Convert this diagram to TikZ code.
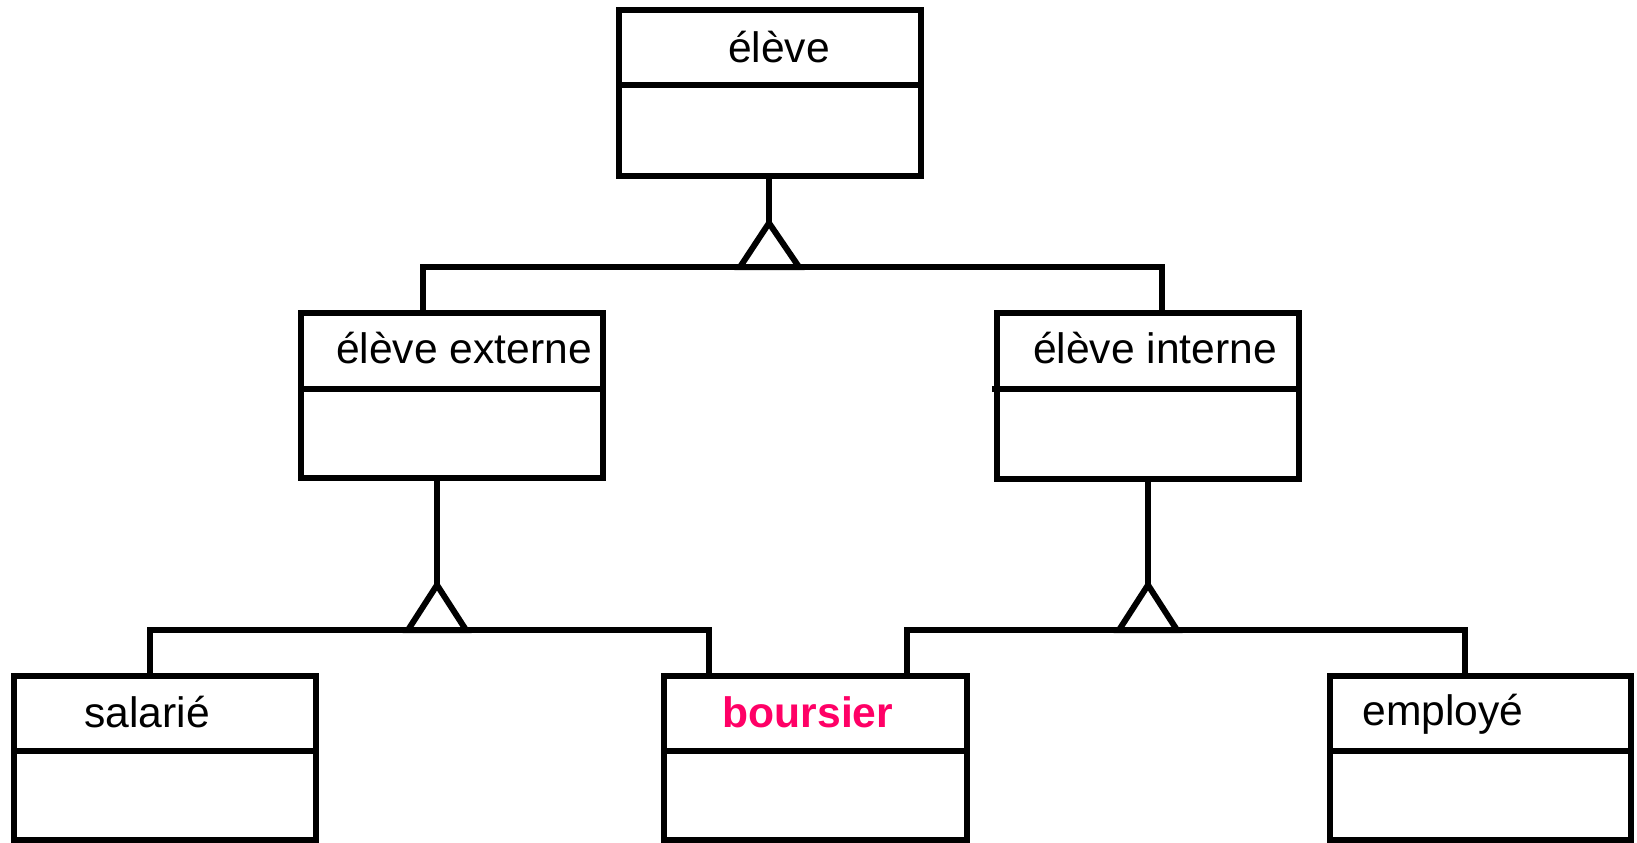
\documentclass[tikz,border=0pt]{standalone}
\usepackage{fontspec}
\setmainfont{Liberation Sans}
\definecolor{pinkred}{RGB}{255,0,102}
\begin{document}
\begin{tikzpicture}[x=0.5pt,y=-0.5pt,
  classbox/.style={draw=black, line width=3pt, rectangle, inner sep=0pt, outer sep=0pt},
  conn/.style={draw=black, line width=3pt},
  lbl/.style={anchor=base, inner sep=0pt, font=\fontsize{21.3}{25}\selectfont}]
\useasboundingbox (0,0) rectangle (1637,842);
\fill[white] (0,0) rectangle (1637,842);
\clip (0,0) rectangle (1637,842);
% class boxes
\node[classbox, minimum width=151pt, minimum height=83pt] (eleve) at (770,93) {};
\node[classbox, minimum width=151pt, minimum height=82.5pt] (ext) at (452,395.5) {};
\node[classbox, minimum width=151pt, minimum height=83pt] (int) at (1148,396) {};
\node[classbox, minimum width=151pt, minimum height=82pt] (sal) at (165,758) {};
\node[classbox, minimum width=151.5pt, minimum height=82pt] (bou) at (815.5,758) {};
\node[classbox, minimum width=150.5pt, minimum height=82pt] (emp) at (1480.5,758) {};
% dividers
\draw[conn] (eleve.west |- 0,85) -- (eleve.east |- 0,85);
\draw[conn] (ext.west |- 0,389) -- (ext.east |- 0,389);
\draw[conn] (992,389) -- (int.east |- 0,389);
\draw[conn] (sal.west |- 0,751) -- (sal.east |- 0,751);
\draw[conn] (bou.west |- 0,751) -- (bou.east |- 0,751);
\draw[conn] (emp.west |- 0,751) -- (emp.east |- 0,751);
% labels
\node[lbl] (televe) at (779,62) {élève};
\node[lbl] (text) at (464,363) {élève externe};
\node[lbl] (tint) at (1155,363) {élève interne};
\node[lbl] (tsal) at (147,727) {salarié};
\node[lbl, text=pinkred, font=\fontsize{21.3}{25}\selectfont\bfseries] (tbou) at (808,727) {boursier};
\node[lbl] (temp) at (1443,725) {employé};
% generalisation 1
\coordinate (apex1) at (769,223);
\coordinate (t1l) at (740,267);
\coordinate (t1r) at (799,267);
\coordinate (bar1l) at (423,267);
\coordinate (bar1r) at (1162,267);
\draw[conn] (eleve.south -| apex1) -- (apex1);
\draw[conn] (apex1) -- (t1l) -- (t1r) -- cycle;
\draw[conn] (ext.north -| bar1l) -- (bar1l) -- (bar1r) -- (int.north -| bar1r);
% generalisation 2
\coordinate (apex2) at (437,585);
\coordinate (t2l) at (408,630);
\coordinate (t2r) at (466,630);
\coordinate (bar2l) at (150,630);
\coordinate (bar2r) at (709,630);
\draw[conn] (ext.south -| apex2) -- (apex2);
\draw[conn] (apex2) -- (t2l) -- (t2r) -- cycle;
\draw[conn] (sal.north -| bar2l) -- (bar2l) -- (bar2r) -- (bou.north -| bar2r);
% generalisation 3
\coordinate (apex3) at (1148,585);
\coordinate (t3l) at (1119,630);
\coordinate (t3r) at (1177,630);
\coordinate (bar3l) at (907,630);
\coordinate (bar3r) at (1465,630);
\draw[conn] (int.south -| apex3) -- (apex3);
\draw[conn] (apex3) -- (t3l) -- (t3r) -- cycle;
\draw[conn] (bou.north -| bar3l) -- (bar3l) -- (bar3r) -- (emp.north -| bar3r);
\end{tikzpicture}
\end{document}
